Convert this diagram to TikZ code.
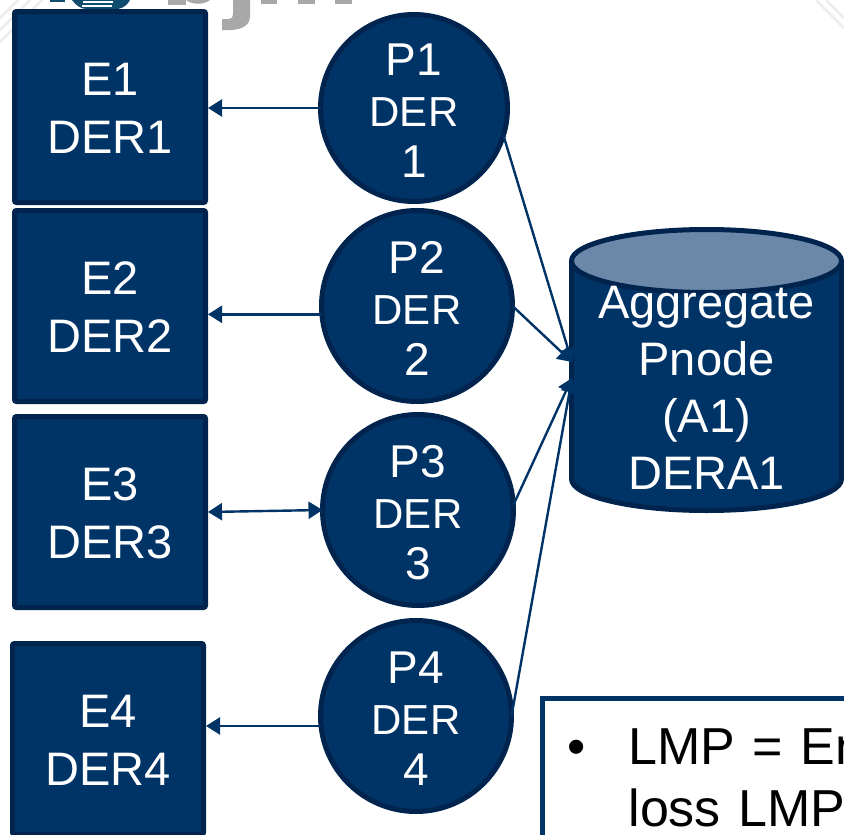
\documentclass[tikz,border=0pt]{standalone}
\usepackage{fontspec}
\setmainfont{Liberation Sans}
\usetikzlibrary{arrows.meta}
\definecolor{derblue}{HTML}{003366}
\definecolor{derdark}{HTML}{00244D}
\definecolor{dertop}{HTML}{6B88A8}
\definecolor{logoteal}{HTML}{0F4C6E}
\definecolor{logogray}{HTML}{A8A8A8}
\newcommand{\dersize}{\fontsize{42}{51}\selectfont}
\tikzset{
  ebox/.style={draw=derdark,fill=derblue,line width=5pt,rounded corners=2pt,outer sep=2.5pt,
    minimum width=191pt,minimum height=191pt,text=white,align=center,
    font=\fontsize{47}{58}\selectfont,text height=93pt,text depth=0pt},
  pnode/.style={circle,draw=derdark,fill=derblue,line width=5pt,outer sep=0pt,inner sep=0pt,
    minimum size=191pt,text=white,align=center,font=\fontsize{46}{51}\selectfont,
    text height=138pt,text depth=0pt},
  drum/.style={draw=derdark,line width=5pt},
  flow/.style={draw=derblue,line width=2.4pt,-{Triangle[length=14pt,width=17pt]}},
  feed/.style={draw=derblue,line width=2.4pt,{Triangle[length=14pt,width=17pt]}-{Triangle[length=14pt,width=17pt]}},
  stripe/.style={black!7,line width=2.5pt}
}
\begin{document}
\begin{tikzpicture}[x=1pt,y=-1pt]
  \useasboundingbox (0,0) rectangle (844,835);
  \clip (0,0) rectangle (844,835);

  \draw[stripe] (0,18) -- (18,0);
  \draw[stripe] (0,30) -- (30,0);
  \draw[stripe] (0,42) -- (42,0);
  \draw[stripe] (816,0) -- (844,28);
  \draw[stripe] (826,0) -- (844,18);

  \fill[logoteal] (72,0) .. controls (76,6) and (82,9) .. (86,9) -- (118,9) .. controls (124,8) and (128,4) .. (130,0) -- cycle;
  \fill[white] (83,1) rectangle (113,2.5);
  \fill[white] (82,5) rectangle (112,7);
  \fill[logoteal] (50,0) rectangle (65,1.5);
  \fill[logogray] (168,0) rectangle (186,5);
  \fill[logogray] (186,0) .. controls (192,5) and (204,5) .. (210,0) -- cycle;
  \fill[logogray] (233,0) -- (250,0) -- (250,16) .. controls (250,25) and (243,29) .. (232,30) -- (222,30) -- (222,19) -- (229,19) .. controls (232,19) and (233,17) .. (233,14) -- cycle;
  \fill[logogray] (261,0) rectangle (277,4);
  \fill[logogray] (298,0) rectangle (315,4);
  \fill[logogray] (335,0) rectangle (352,4);

  \node[ebox] (E1) at (110,107) {E1\\DER1};
  \node[ebox] (E2) at (110,306) {E2\\DER2};
  \node[ebox] (E3) at (110,512) {E3\\DER3};
  \node[ebox] (E4) at (108,739) {E4\\DER4};

  \node[pnode,minimum size=187pt] (P1) at (414,108) {P1\\{\dersize DER}\\1};
  \node[pnode] (P2) at (417,306) {P2\\{\dersize DER}\\2};
  \node[pnode] (P3) at (418,510) {P3\\{\dersize DER}\\3};
  \node[pnode] (P4) at (416,716) {P4\\{\dersize DER}\\4};

  \filldraw[drum,fill=derblue] (571.5,261) -- (571.5,479)
    arc[start angle=180,end angle=0,x radius=135,y radius=31.5] -- (841.5,261);
  \filldraw[drum,fill=dertop] (706.5,261) ellipse [x radius=135,y radius=31.5];
  \node[text=white,align=center,font=\fontsize{47}{57}\selectfont] (A1) at (706.5,388) {Aggregate\\Pnode\\(A1)\\DERA1};

  \coordinate (A1top) at (572,362);
  \coordinate (A1low) at (572,378);

  \draw[flow] (P1.west) -- (P1.west -| E1.east);
  \draw[flow] (P2.185) -- (P2.185 -| E2.east);
  \draw[feed] (E3.east) -- (P3.west);
  \draw[flow] (P4.186) -- (P4.186 -| E4.east);

  \draw[flow] (P1.-17) -- (A1top);
  \draw[flow] (P2.east) -- (A1top);
  \draw[flow] (P3.3) -- (A1low);
  \draw[flow] (P4.east) -- (A1low);

  \node[draw=derblue,fill=white,line width=5pt,anchor=north west,outer sep=0pt,inner xsep=25pt,inner ysep=30pt,
    text width=400pt,align=left,font=\fontsize{52}{62}\selectfont] (note) at (542.5,698.5)
    {\makebox[61pt][l]{\textbullet}LMP = En\\\makebox[61pt]{}loss LMP};
\end{tikzpicture}
\end{document}
